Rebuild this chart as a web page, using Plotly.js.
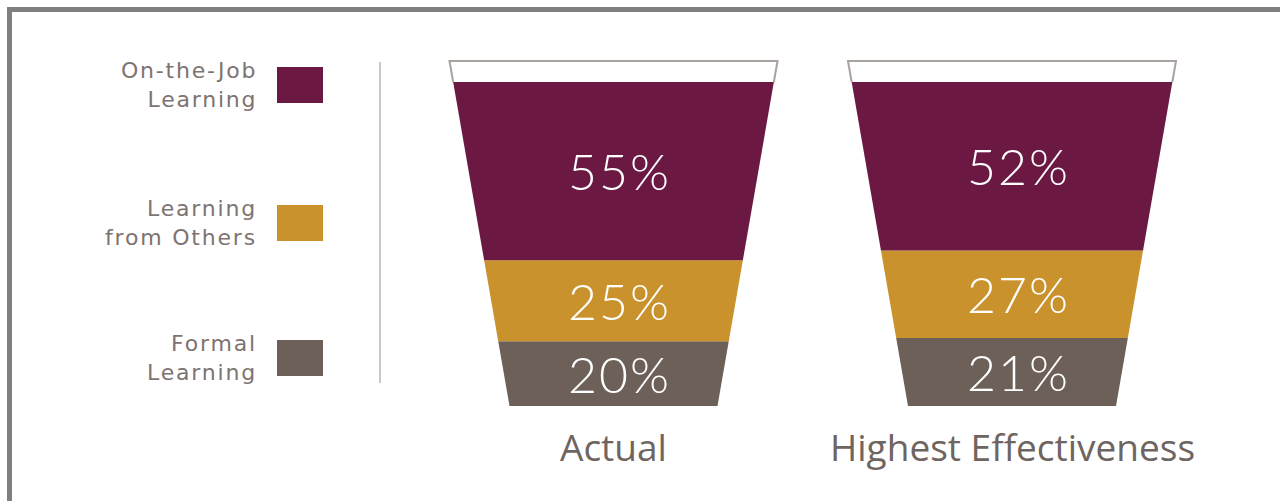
<!DOCTYPE html>
<html>
<head>
<meta charset="utf-8">
<script src="https://cdn.plot.ly/plotly-3.0.1.min.js"></script>
<style>
  html, body { margin: 0; padding: 0; background: #ffffff; }
  #chart { width: 1280px; height: 501px; }
</style>
</head>
<body>
<div id="chart"></div>
<script>
// ---- data ----
const categories = ["Actual", "Highest Effectiveness"];
const seriesNames = ["On-the-Job Learning", "Learning from Others", "Formal Learning"];
const legendLabels = ["On-the-Job<br>Learning", "Learning<br>from Others", "Formal<br>Learning"];
const onTheJob = [55, 52];
const fromOthers = [25, 27];
const formal = [20, 21];

// ---- style ----
const colors = { onTheJob: "#6b1942", fromOthers: "#c9922d", formal: "#6d6058" };
const W = 1280, H = 501;
const baseY = 406;          // pixel row of cup bottom
const pxPerUnit = 3.24;     // pixels per percentage point
const toV = py => (baseY - py) / pxPerUnit;
const cupCenters = [613.5, 1012];
const bottomHalf = 104;
const slope = 0.5635;       // half-width growth per unit
const rimUnits = 6.5;
const hw = v => bottomHalf + slope * v;

function trapezoid(c, v0, v1) {
  return {
    x: [c - hw(v0), c + hw(v0), c + hw(v1), c - hw(v1), c - hw(v0)],
    y: [v0, v0, v1, v1, v0]
  };
}

const traces = [];
const annotations = [];
const stackOrder = [
  { vals: formal, color: colors.formal, name: seriesNames[2] },
  { vals: fromOthers, color: colors.fromOthers, name: seriesNames[1] },
  { vals: onTheJob, color: colors.onTheJob, name: seriesNames[0] }
];

categories.forEach((cat, i) => {
  const c = cupCenters[i];
  const total = formal[i] + fromOthers[i] + onTheJob[i];
  // rim (white band with grey outline)
  const r0 = total, r1 = total + rimUnits;
  traces.push({
    type: "scatter", mode: "lines", fill: "toself", fillcolor: "#ffffff",
    x: [c - hw(r0), c - hw(r1), c + hw(r1), c + hw(r0)],
    y: [r0, r1, r1, r0],
    line: { color: "#aaa29e", width: 2 },
    hoverinfo: "skip", showlegend: false
  });
  let cum = 0;
  stackOrder.forEach(s => {
    const v0 = cum, v1 = cum + s.vals[i];
    const p = trapezoid(c, v0, v1);
    traces.push({
      type: "scatter", mode: "lines", fill: "toself", fillcolor: s.color,
      x: p.x, y: p.y, line: { width: 0, color: s.color },
      name: s.name, hoverinfo: "skip", showlegend: false
    });
    annotations.push({
      x: c + 6, y: (v0 + v1) / 2, xref: "x", yref: "y",
      text: '<span style="letter-spacing:2px">' + s.vals[i] + '%</span>', showarrow: false,
      font: { family: "Lato, 'Open Sans', sans-serif", size: 50, color: "#ffffff", weight: 300 },
      xanchor: "center", yanchor: "middle"
    });
    cum = v1;
  });
  annotations.push({
    x: c, y: toV(446), xref: "x", yref: "y",
    text: cat, showarrow: false,
    font: { family: "'Open Sans', sans-serif", size: 37, color: "#6e6460" },
    xanchor: "center", yanchor: "middle"
  });
});

// legend (manual)
const legendColors = [colors.onTheJob, colors.fromOthers, colors.formal];
const legendRows = [85, 223, 358];
const shapes = [];
legendLabels.forEach((lab, k) => {
  const cy = legendRows[k];
  shapes.push({
    type: "rect", xref: "x", yref: "y",
    x0: 277, x1: 323, y0: toV(cy + 18), y1: toV(cy - 18),
    fillcolor: legendColors[k], line: { width: 0 }
  });
  const parts = lab.split("<br>").map(t => '<span style="letter-spacing:1.8px">' + t + '</span>');
  annotations.push({
    x: 258, y: toV(cy), xref: "x", yref: "y",
    text: parts.join("<br>"), showarrow: false, align: "right",
    font: { family: "'DejaVu Sans', sans-serif", size: 22, color: "#7d7370" },
    xanchor: "right", yanchor: "middle", borderpad: 0
  });
});
// separator line
shapes.push({ type: "line", xref: "x", yref: "y", x0: 380, x1: 380, y0: toV(62), y1: toV(383),
  line: { color: "#cdc8c4", width: 2 } });
// frame (top and left)
shapes.push({ type: "rect", xref: "x", yref: "y", x0: 7, x1: 1280, y0: toV(12), y1: toV(7),
  fillcolor: "#7f7f7f", line: { width: 0 } });
shapes.push({ type: "rect", xref: "x", yref: "y", x0: 7, x1: 12, y0: toV(501), y1: toV(7),
  fillcolor: "#7f7f7f", line: { width: 0 } });

const layout = {
  width: W, height: H,
  margin: { l: 0, r: 0, t: 0, b: 0, pad: 0 },
  paper_bgcolor: "#ffffff", plot_bgcolor: "#ffffff",
  xaxis: { range: [0, W], visible: false, fixedrange: true },
  yaxis: { range: [toV(H), toV(0)], visible: false, fixedrange: true },
  showlegend: false,
  shapes: shapes,
  annotations: annotations
};

Plotly.newPlot("chart", traces, layout, { staticPlot: true, displayModeBar: false });
</script>
</body>
</html>
